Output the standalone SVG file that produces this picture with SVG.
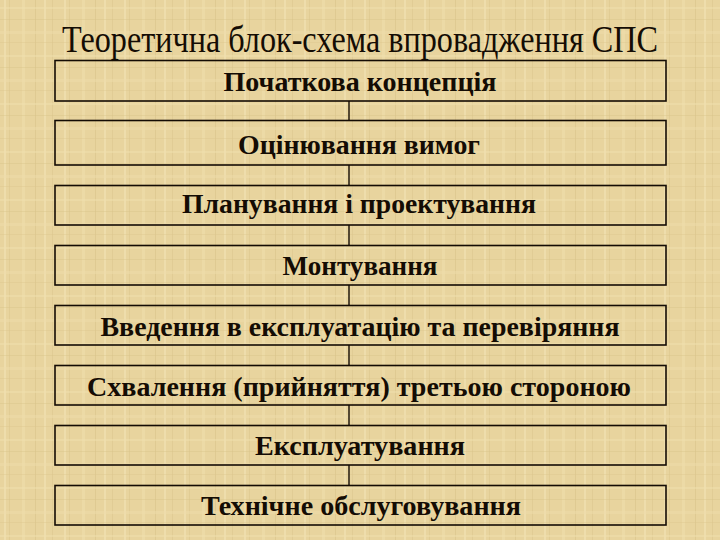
<svg xmlns="http://www.w3.org/2000/svg" width="720" height="540" viewBox="0 0 720 540">
  <defs>
    <pattern id="parch" width="60" height="48" patternUnits="userSpaceOnUse">
      <rect width="60" height="48" fill="#E8D49E"/>
      <rect x="4" y="0" width="2" height="48" fill="#F2E3B6" opacity="0.6"/>
      <rect x="9" y="0" width="1" height="48" fill="#D9C38A" opacity="0.5"/>
      <rect x="22" y="0" width="3" height="48" fill="#EFDDAB" opacity="0.6"/>
      <rect x="35" y="0" width="1" height="48" fill="#D6BF85" opacity="0.5"/>
      <rect x="44" y="0" width="2" height="48" fill="#F3E5BA" opacity="0.5"/>
      <rect x="52" y="0" width="1" height="48" fill="#DAC48C" opacity="0.5"/>
      <rect x="0" y="7" width="60" height="2" fill="#F0DFAE" opacity="0.5"/>
      <rect x="0" y="19" width="60" height="1" fill="#D8C288" opacity="0.4"/>
      <rect x="0" y="31" width="60" height="3" fill="#EEDCA9" opacity="0.5"/>
      <rect x="0" y="42" width="60" height="1" fill="#DBC58D" opacity="0.4"/>
    </pattern>
  </defs>
  <style>
    .box { fill: none; stroke: #140c04; stroke-width: 1.6; }
    .lbl { font-family: "Liberation Serif", "Times New Roman", serif; font-weight: bold; font-size: 27px; fill: #140c04; text-anchor: middle; }
    .title { font-family: "Liberation Serif", "Times New Roman", serif; font-size: 37px; fill: #140c04; }
    .conn line { stroke: #140c04; stroke-width: 1.4; }
  </style>
  <rect width="720" height="540" fill="url(#parch)"/>

  <text class="title" x="62" y="52" textLength="596" lengthAdjust="spacingAndGlyphs">Теоретична блок-схема впровадження СПС</text>

  <g id="connectors" class="conn">
    <line x1="349" y1="101" x2="349" y2="121"/>
    <line x1="349" y1="165" x2="349" y2="186"/>
    <line x1="349" y1="225" x2="349" y2="246"/>
    <line x1="349" y1="285" x2="349" y2="306"/>
    <line x1="349" y1="345" x2="349" y2="366"/>
    <line x1="349" y1="405" x2="349" y2="426"/>
    <line x1="349" y1="465" x2="349" y2="486"/>
  </g>

  <g id="n1"><rect class="box" x="55" y="60.5" width="611" height="40.5"/><text class="lbl" x="360" y="91" textLength="273" lengthAdjust="spacingAndGlyphs">Початкова концепція</text></g>
  <g id="n2"><rect class="box" x="55" y="120.5" width="611" height="44.5"/><text class="lbl" x="359" y="154" textLength="242" lengthAdjust="spacingAndGlyphs">Оцінювання вимог</text></g>
  <g id="n3"><rect class="box" x="55" y="185.5" width="611" height="39.5"/><text class="lbl" x="359" y="213" textLength="354" lengthAdjust="spacingAndGlyphs">Планування і проектування</text></g>
  <g id="n4"><rect class="box" x="55" y="245.5" width="611" height="39.5"/><text class="lbl" x="360" y="275" textLength="155" lengthAdjust="spacingAndGlyphs">Монтування</text></g>
  <g id="n5"><rect class="box" x="55" y="305.5" width="611" height="39.5"/><text class="lbl" x="360" y="335.5" textLength="519" lengthAdjust="spacingAndGlyphs">Введення в експлуатацію та перевіряння</text></g>
  <g id="n6"><rect class="box" x="55" y="365.5" width="611" height="39.5"/><text class="lbl" x="359" y="395.5" textLength="544" lengthAdjust="spacingAndGlyphs">Схвалення (прийняття) третьою стороною</text></g>
  <g id="n7"><rect class="box" x="55" y="425.5" width="611" height="39.5"/><text class="lbl" x="360" y="455" textLength="210" lengthAdjust="spacingAndGlyphs">Експлуатування</text></g>
  <g id="n8"><rect class="box" x="55" y="485.5" width="611" height="39.5"/><text class="lbl" x="361" y="515" textLength="320" lengthAdjust="spacingAndGlyphs">Технічне обслуговування</text></g>
</svg>
